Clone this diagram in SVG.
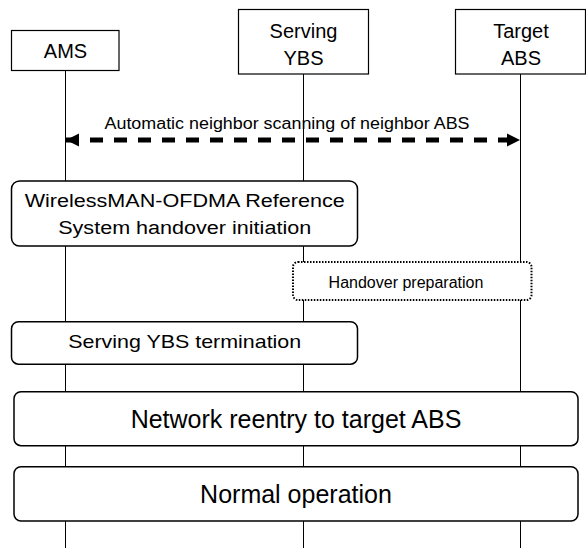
<svg xmlns="http://www.w3.org/2000/svg" width="586" height="548" viewBox="0 0 586 548">
<style>
text{font-family:"Liberation Sans",Arial,sans-serif;fill:#000;text-anchor:middle}
.life{stroke:#000;stroke-width:1}
.head{fill:#fff;stroke:#000;stroke-width:1.2}
.step{fill:#fff;stroke:#000;stroke-width:1.5}
.dot{fill:#fff;stroke:#000;stroke-width:2;stroke-dasharray:1.5 1.5}
.h{font-size:20px}
</style>
<defs>
<marker id="ah" viewBox="0 0 10 10" refX="10" refY="5" markerWidth="2.6" markerHeight="2.8" orient="auto-start-reverse" markerUnits="strokeWidth">
<path d="M0,0 L10,5 L0,10 Z" fill="#000"/>
</marker>
</defs>
<g id="lifelines">
<line class="life" x1="65.5" y1="70" x2="65.5" y2="548"/>
<line class="life" x1="303.5" y1="74" x2="303.5" y2="548"/>
<line class="life" x1="520.5" y1="74" x2="520.5" y2="548"/>
</g>
<g id="connectors">
<line x1="66" y1="140" x2="520" y2="140" stroke="#000" stroke-width="5" stroke-dasharray="13 11" marker-start="url(#ah)" marker-end="url(#ah)"/>
<text x="287" y="128.5" font-size="16" textLength="365" lengthAdjust="spacingAndGlyphs">Automatic neighbor scanning of neighbor ABS</text>
</g>
<g id="ams">
<rect class="head" x="11.5" y="30.5" width="107.5" height="40"/>
<text class="h" x="65.5" y="57.5">AMS</text>
</g>
<g id="serving-ybs">
<rect class="head" x="238.5" y="9.5" width="130" height="64.5"/>
<text class="h" x="303.5" y="37.5">Serving</text>
<text class="h" x="303.5" y="65">YBS</text>
</g>
<g id="target-abs">
<rect class="head" x="455.5" y="9.5" width="130" height="64.5"/>
<text class="h" x="521" y="37.5">Target</text>
<text class="h" x="521" y="65">ABS</text>
</g>
<g id="ho-init">
<rect class="step" x="11.5" y="181" width="346" height="65" rx="8"/>
<text x="184.7" y="207.3" font-size="18" textLength="320" lengthAdjust="spacingAndGlyphs">WirelessMAN-OFDMA Reference</text>
<text x="184.7" y="234" font-size="18" textLength="253" lengthAdjust="spacingAndGlyphs">System handover initiation</text>
</g>
<g id="ho-prep">
<rect class="dot" x="293" y="262" width="238.5" height="38" rx="5"/>
<text x="406" y="287.7" font-size="16">Handover preparation</text>
</g>
<g id="ybs-term">
<rect class="step" x="11.5" y="321.7" width="346" height="42.5" rx="7"/>
<text x="184.7" y="348" font-size="19" textLength="233" lengthAdjust="spacingAndGlyphs">Serving YBS termination</text>
</g>
<g id="reentry">
<rect class="step" x="14" y="391.7" width="564" height="54" rx="7"/>
<text x="296" y="428.3" font-size="25">Network reentry to target ABS</text>
</g>
<g id="normal">
<rect class="step" x="14" y="466.7" width="564" height="54.3" rx="7"/>
<text x="296" y="503" font-size="25">Normal operation</text>
</g>
</svg>
